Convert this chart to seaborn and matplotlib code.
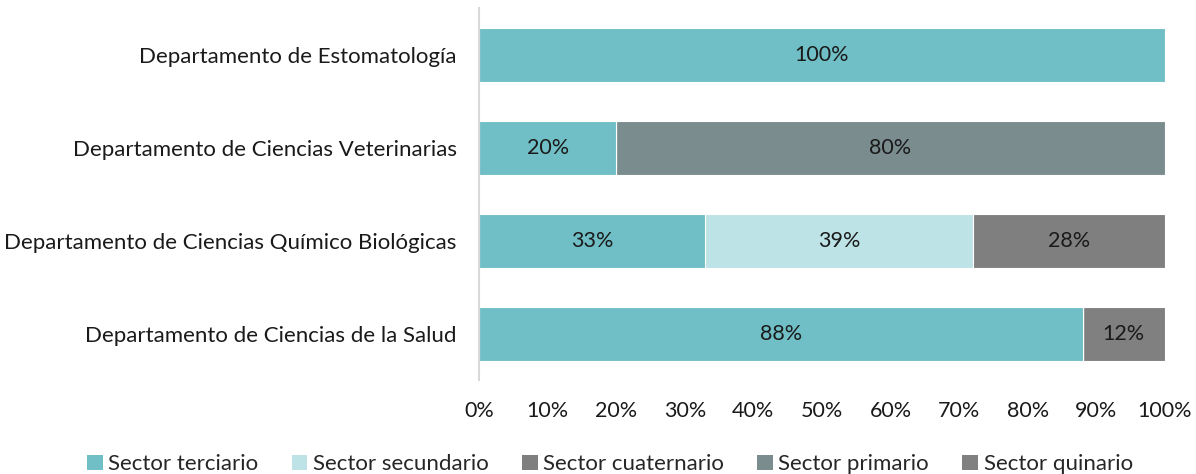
import matplotlib
matplotlib.use("Agg")
import matplotlib.pyplot as plt
from matplotlib.patches import Patch
import numpy as np
import pandas as pd
import seaborn as sns

# Departments (top to bottom) and share of each sector, in percent
departments = [
    "Departamento de Estomatología",
    "Departamento de Ciencias Veterinarias",
    "Departamento de Ciencias Químico Biológicas",
    "Departamento de Ciencias de la Salud",
]
sectors = ["Sector terciario", "Sector secundario", "Sector cuaternario",
           "Sector primario", "Sector quinario"]
terciario = [100, 20, 33, 88]
secundario = [0, 0, 39, 0]
cuaternario = [0, 0, 28, 0]
primario = [0, 80, 0, 0]
quinario = [0, 0, 0, 12]
colors = ["#70BFC6", "#BDE3E6", "#7F7F7F", "#7A8C8E", "#808080"]

sns.set_theme(style="white")
plt.rcParams["font.family"] = ["Lato", "DejaVu Sans"]

values = np.array([terciario, secundario, cuaternario, primario, quinario], dtype=float)
cum = values.cumsum(axis=0)
starts = cum - values

fig = plt.figure(figsize=(11.96, 4.74), dpi=100)
ax = fig.add_axes([0.4005, 0.198, 0.5735, 0.785])

# Stack by drawing cumulative totals, widest first so each layer sits on top
for i in range(len(sectors) - 1, -1, -1):
    df = pd.DataFrame({"dept": departments, "total": cum[i]})
    sns.barplot(data=df, x="total", y="dept", color=colors[i], ax=ax,
                orient="h", width=0.58, saturation=1, edgecolor="white",
                linewidth=0.8, order=departments)

# Value labels in the middle of each segment
for i in range(len(sectors)):
    for j in range(len(departments)):
        v = values[i, j]
        if v > 0:
            ax.text(starts[i, j] + v / 2, j, f"{int(v)}%", ha="center",
                    va="center", fontsize=15.5, color="#1a1a1a")

ax.set_xlim(0, 100)
ax.set_ylim(3.5, -0.5)
ax.set_xticks(np.arange(0, 101, 10))
ax.set_xticklabels([f"{t}%" for t in range(0, 101, 10)], fontsize=15.5, color="#1a1a1a")
ax.tick_params(axis="y", labelsize=16, colors="#1a1a1a", length=0, pad=16)
ax.tick_params(axis="x", length=0, pad=15)
ax.set_xlabel("")
ax.set_ylabel("")
for s in ["top", "right", "bottom"]:
    ax.spines[s].set_visible(False)
ax.spines["left"].set_color("#D9D9D9")
ax.spines["left"].set_linewidth(1.5)

handles = [Patch(facecolor=c, edgecolor="none") for c in colors]
fig.legend(handles, sectors, loc="lower center", bbox_to_anchor=(0.51, -0.043),
           ncol=5, frameon=False, fontsize=16, handlelength=0.7,
           handleheight=0.7, handletextpad=0.25, columnspacing=1.5)

fig.savefig("out.png", dpi=100)
